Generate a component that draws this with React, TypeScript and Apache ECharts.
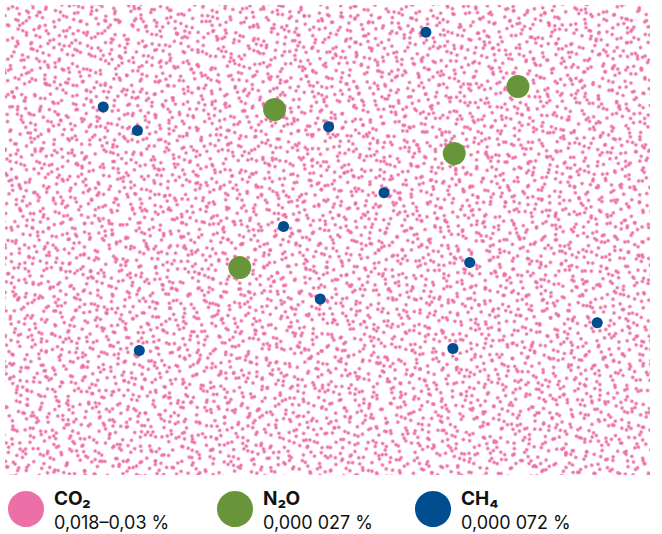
import React, { useEffect, useRef } from 'react';
import * as echarts from 'echarts';

// Legend content
const gases = ['CO₂', 'N₂O', 'CH₄'];
const shares = ['0,018–0,03 %', '0,000 027 %', '0,000 072 %'];

// CO₂ fills the whole air sample (drawn as a dense texture)
const co2Field = [1];

// Individual molecules, positions in % of the sample box (x from left, y from bottom)
const n2oPoints = [
  [41.7, 77.9],
  [79.5, 82.8],
  [69.6, 68.5],
  [36.3, 44.1],
];
const ch4Points = [
  [65.2, 94.4],
  [15.1, 78.4],
  [20.4, 73.4],
  [50.1, 74.2],
  [58.7, 60.1],
  [43.1, 52.9],
  [72.0, 45.2],
  [48.8, 37.4],
  [91.8, 32.3],
  [20.7, 26.4],
  [69.4, 26.8],
];

const PINK = '#ec6fa8';
const GREEN = '#68953a';
const BLUE = '#004d8f';

const textureLayers = [
  {
    rotation: 0.35,
    dashArrayX: [
      [4, 8, 4, 13, 4, 5, 4, 2],
      [4, 4, 4, 10, 4, 18],
      [4, 11, 4, 6, 4, 1, 4, 10],
      [4, 15, 4, 7, 4, 10],
    ],
    dashArrayY: [4, 7, 4, 4, 4, 10, 4, 5],
  },
  {
    rotation: -0.6,
    dashArrayX: [
      [4, 6, 4, 14, 4, 20],
      [4, 9, 4, 3, 4, 12, 4, 12],
      [4, 17, 4, 8, 4, 15],
      [4, 4, 4, 11, 4, 5, 4, 16],
      [4, 12, 4, 21, 4, 7],
    ],
    dashArrayY: [4, 6, 4, 9, 4, 3, 4, 8, 4, 5],
  },
  {
    rotation: 1.2,
    dashArrayX: [
      [4, 5, 4, 11, 4, 10],
      [4, 14, 4, 3, 4, 9],
      [4, 8, 4, 2, 4, 6, 4, 6],
    ],
    dashArrayY: [4, 8, 4, 4, 4, 11],
  },
];

export default function App() {
  const ref = useRef<HTMLDivElement>(null);

  useEffect(() => {
    document.body.style.margin = '0';
    if (!ref.current) return;
    const chart = echarts.init(ref.current, null, { renderer: 'svg' });

    const legendX = [26, 235, 433];
    const legendColors = [PINK, GREEN, BLUE];
    const graphic: any[] = [];
    gases.forEach((g, i) => {
      graphic.push({
        type: 'circle',
        shape: { cx: legendX[i], cy: 509, r: 18 },
        style: { fill: legendColors[i] },
      });
      graphic.push({
        type: 'text',
        x: legendX[i] + 28,
        y: 498,
        style: {
          text: g,
          fill: '#111',
          font: 'bold 19px Inter, "Noto Sans", sans-serif',
          verticalAlign: 'middle',
          align: 'left',
        },
      });
      graphic.push({
        type: 'text',
        x: legendX[i] + 28,
        y: 522,
        style: {
          text: shares[i],
          fill: '#111',
          font: '18px Inter, "Noto Sans", sans-serif',
          verticalAlign: 'middle',
          align: 'left',
        },
      });
    });

    const option: any = {
      animation: false,
      grid: [
        { left: 5, top: 5, width: 645, height: 470 },
        { left: 6, top: 6, width: 644, height: 468 },
      ],
      xAxis: [
        { gridIndex: 0, type: 'category', data: ['air'], show: false },
        { gridIndex: 1, type: 'value', min: 0, max: 100, show: false },
      ],
      yAxis: [
        { gridIndex: 0, type: 'value', min: 0, max: 1, show: false },
        { gridIndex: 1, type: 'value', min: 0, max: 100, show: false },
      ],
      series: [
        ...textureLayers.map((l) => ({
          type: 'bar',
          xAxisIndex: 0,
          yAxisIndex: 0,
          data: co2Field,
          barWidth: '100%',
          barGap: '-100%',
          silent: true,
          itemStyle: {
            color: 'rgba(255,255,255,0)',
            decal: {
              symbol: 'circle',
              symbolSize: 0.88,
              color: PINK,
              backgroundColor: 'rgba(255,255,255,0)',
              dashArrayX: l.dashArrayX,
              dashArrayY: l.dashArrayY,
              rotation: l.rotation,
            },
          },
        })),
        {
          type: 'scatter',
          name: 'N₂O',
          xAxisIndex: 1,
          yAxisIndex: 1,
          data: n2oPoints,
          symbolSize: 23,
          silent: true,
          itemStyle: { color: GREEN, opacity: 1 },
        },
        {
          type: 'scatter',
          name: 'CH₄',
          xAxisIndex: 1,
          yAxisIndex: 1,
          data: ch4Points,
          symbolSize: 11,
          silent: true,
          itemStyle: { color: BLUE, opacity: 1 },
        },
      ],
      graphic,
    };
    chart.setOption(option);
    return () => chart.dispose();
  }, []);

  return <div ref={ref} style={{ width: 662, height: 534 }} />;
}
